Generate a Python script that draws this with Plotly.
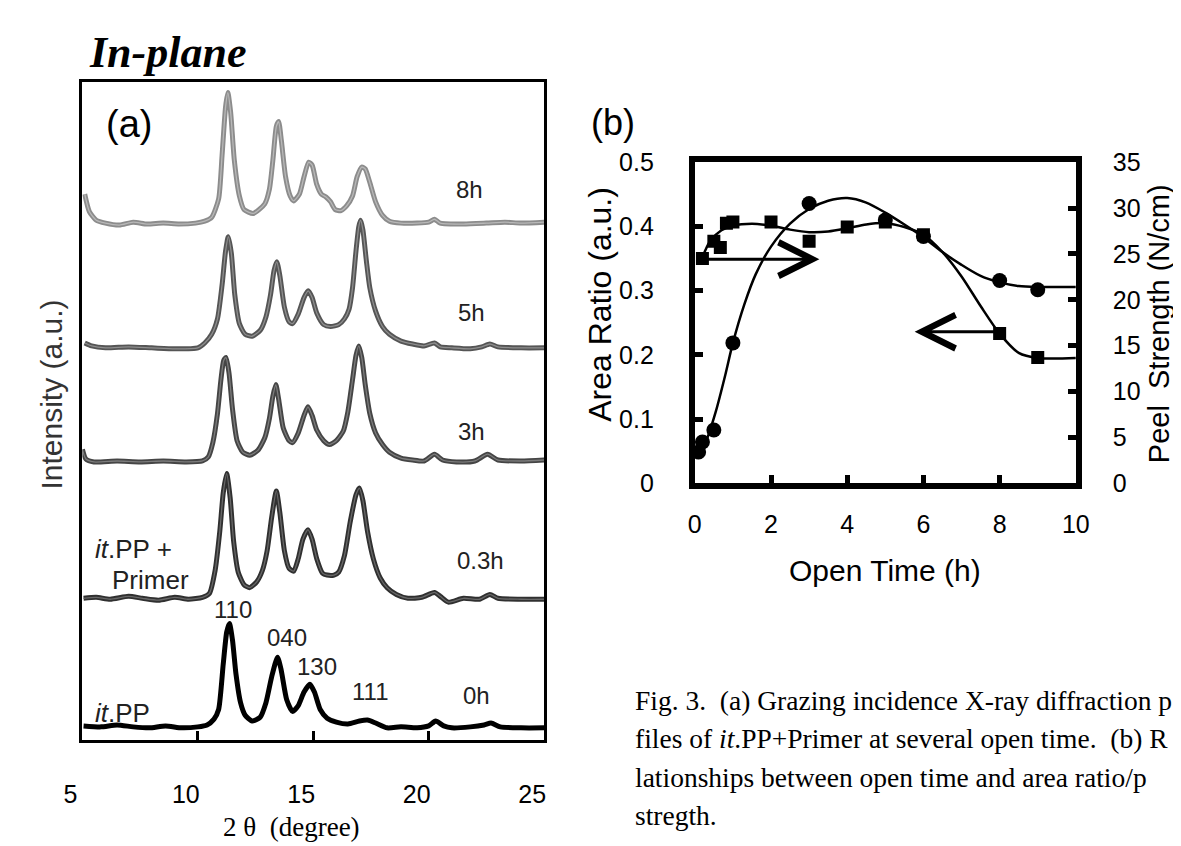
import plotly.graph_objects as go

W, H = 1181, 846

# ---------- (a) in-plane GIXD profiles (intensity in a.u.) ----------
tt_8h = [5.1, 5.3, 5.6, 6.0, 6.6, 7.2, 7.8, 8.5, 9.2, 9.9, 10.3, 10.6, 10.9, 11.05, 11.2, 11.3, 11.42,
         11.58, 11.8, 12.0, 12.4, 12.9, 13.1, 13.25, 13.4, 13.5, 13.62, 13.8, 14.0, 14.15, 14.4, 14.6,
         14.8, 14.95, 15.15, 15.35, 15.55, 15.75, 15.95, 16.2, 16.45, 16.7, 16.9, 17.1, 17.25, 17.45,
         17.7, 18.0, 18.3, 18.8, 19.5, 20.0, 20.25, 20.5, 21.5, 22.5, 23.3, 24.0, 25.0]
int_8h = [30, 12, 3, 0, -2, 1, -1, 0, -1, 0, 2, 6, 25, 70, 120, 135, 115, 65, 28, 14, 10, 20, 35,
          65, 100, 105, 85, 48, 28, 23, 30, 48, 63, 60, 40, 30, 27, 22, 14, 13, 18, 28, 48, 58, 56,
          42, 22, 8, 2, 0, 0, 1, 4, 0, -1, 0, 1, 0, 1]

tt_5h = [5.1, 5.4, 6.0, 7.0, 8.0, 9.0, 10.0, 10.3, 10.6, 10.85, 11.05, 11.2, 11.32, 11.45, 11.6,
         11.8, 12.05, 12.35, 12.7, 12.95, 13.15, 13.3, 13.42, 13.55, 13.75, 13.95, 14.1, 14.35, 14.6,
         14.78, 14.95, 15.15, 15.45, 15.75, 16.1, 16.35, 16.55, 16.7, 16.85, 16.97, 17.05, 17.15,
         17.3, 17.45, 17.7, 18.0, 18.3, 18.8, 19.3, 19.8, 20.25, 20.5, 21.0, 21.8, 22.3, 22.65, 23.0,
         24.0, 25.0]
int_5h = [5, 2, 0, 1, 0, -1, 0, 5, 14, 30, 65, 100, 115, 98, 55, 25, 14, 12, 18, 32, 55, 80, 89,
          75, 42, 27, 25, 35, 52, 59, 52, 36, 24, 22, 24, 30, 40, 62, 100, 125, 132, 122, 90, 62,
          38, 22, 14, 7, 4, 2, 5, 1, 0, -1, 1, 4, 1, 0, 0]

tt_3h = [5.0, 5.15, 5.5, 6.5, 7.5, 8.5, 9.5, 10.2, 10.45, 10.65, 10.85, 11.0, 11.12, 11.22, 11.35,
         11.5, 11.7, 11.95, 12.25, 12.6, 12.9, 13.1, 13.25, 13.38, 13.5, 13.7, 13.95, 14.1, 14.35,
         14.6, 14.77, 14.95, 15.15, 15.45, 15.7, 16.0, 16.3, 16.5, 16.7, 16.85, 16.97, 17.1, 17.25,
         17.45, 17.7, 18.0, 18.3, 18.8, 19.3, 19.8, 20.25, 20.6, 21.2, 22.0, 22.55, 23.0, 24.0, 25.0]
int_3h = [13, 3, 0, 1, 0, 1, 0, 1, 5, 20, 50, 85, 105, 108, 92, 55, 22, 10, 7, 12, 25, 45, 68, 80,
          65, 35, 22, 20, 30, 48, 57, 48, 33, 22, 18, 22, 32, 52, 85, 110, 120, 108, 80, 50, 30, 18,
          10, 4, 2, 1, 8, 2, 0, 1, 8, 2, 1, 2]

tt_03h = [5.05, 5.6, 6.2, 7.0, 7.6, 8.3, 9.0, 9.6, 10.2, 10.5, 10.75, 10.95, 11.1, 11.25, 11.4,
          11.55, 11.75, 12.0, 12.25, 12.55, 12.8, 13.0, 13.2, 13.4, 13.55, 13.75, 13.95, 14.15,
          14.35, 14.55, 14.77, 14.95, 15.15, 15.4, 15.6, 15.9, 16.1, 16.35, 16.6, 16.85, 17.0, 17.15,
          17.35, 17.6, 17.9, 18.2, 18.6, 19.1, 19.7, 20.25, 20.5, 20.85, 21.5, 22.2, 22.65, 23.0,
          24.0, 25.0]
int_03h = [1, 2, 0, 3, 1, -1, 2, 0, 2, 6, 30, 70, 110, 130, 105, 60, 28, 15, 12, 18, 30, 50, 85,
           112, 90, 50, 32, 29, 42, 62, 72, 62, 42, 27, 25, 25, 28, 45, 80, 108, 115, 102, 70, 42,
           22, 12, 5, 1, 2, 7, 3, -3, 1, 0, 5, 1, 0, 0]

tt_0h = [5.05, 5.8, 6.5, 7.2, 7.9, 8.6, 9.3, 10.0, 10.4, 10.7, 10.9, 11.1, 11.25, 11.37, 11.5,
         11.65, 11.85, 12.05, 12.35, 12.7, 12.95, 13.2, 13.45, 13.6, 13.85, 14.1, 14.35, 14.6, 14.85,
         15.05, 15.3, 15.6, 16.0, 16.5, 17.0, 17.35, 17.7, 18.2, 18.8, 19.5, 20.0, 20.3, 20.65, 21.0,
         21.8, 22.4, 22.7, 23.1, 24.0, 25.0]
int_0h = [1, 0, 2, 0, -1, 1, -1, 0, 2, 8, 18, 65, 98, 107, 90, 55, 25, 12, 6, 10, 25, 52, 72, 60,
          28, 16, 22, 36, 44, 36, 18, 9, 5, 3, 6, 7, 4, -1, 0, -1, 1, 6, 1, -1, 0, 2, 4, 0, -1, -1]

open_times = ["8h", "5h", "3h", "0.3h", "0h"]
stack_offset = [535, 406, 288, 146, 14]
profiles = [(tt_8h, int_8h), (tt_5h, int_5h), (tt_3h, int_3h), (tt_03h, int_03h), (tt_0h, int_0h)]

# ---------- (b) open time vs area ratio / peel strength ----------
area_time = [0.2, 0.5, 0.67, 0.83, 1, 2, 3, 4, 5, 6, 8, 9]
area_ratio = [0.35, 0.377, 0.367, 0.405, 0.407, 0.407, 0.377, 0.399, 0.407, 0.387, 0.233, 0.196]
peel_time = [0.1, 0.2, 0.5, 1, 3, 5, 6, 8, 9]
peel_strength = [3.4, 4.5, 5.8, 15.3, 30.5, 28.7, 26.9, 22.1, 21.1]

area_fit_time = [0.2, 0.4, 0.7, 1.0, 1.5, 2.0, 2.5, 3.0, 3.5, 4.0, 4.5, 5.0, 5.5, 6.0, 6.5, 7.0,
                 7.5, 8.0, 8.5, 9.0, 10.0]
area_fit = [0.352, 0.377, 0.394, 0.401, 0.404, 0.401, 0.395, 0.391, 0.392, 0.397, 0.403, 0.405,
            0.399, 0.387, 0.36, 0.322, 0.276, 0.233, 0.203, 0.195, 0.195]
peel_fit_time = [0.1, 0.3, 0.55, 0.8, 1.0, 1.3, 1.6, 2.0, 2.5, 3.0, 3.5, 4.0, 4.5, 5.0, 5.5, 6.0,
                 6.5, 7.0, 7.5, 8.0, 8.5, 9.0, 10.0]
peel_fit = [2.8, 4.6, 7.8, 11.8, 15.3, 19.5, 22.8, 25.8, 28.3, 29.9, 30.8, 31.1, 30.6, 29.5, 28.2,
            26.8, 25.2, 23.8, 22.6, 21.9, 21.5, 21.4, 21.4]

# caption as far as it is visible in the (cropped) original
caption = [
    "Fig. 3.  (a) Grazing incidence X-ray diffraction p",
    "files of <i>it</i>.PP+Primer at several open time.  (b) R",
    "lationships between open time and area ratio/p",
    "stregth.",
]


def fx(p):
    return p / W


def fy(p):
    return 1 - p / H


SANS = "Liberation Sans, Arial"
SERIF = "Liberation Serif, Times New Roman"

fig = go.Figure()

# panel (a) curves: thick stroke with a lighter core, like the scanned original
outer = ["#8c8c8c", "#555555", "#454545", "#303030", "#000000"]
inner = ["#b8b8b8", "#8e8e8e", "#7c7c7c", "#686868", None]
for (tt, inten), off, oc, ic, name in zip(profiles, stack_offset, outer, inner, open_times):
    y = [v + off for v in inten]
    fig.add_trace(go.Scatter(x=tt, y=y, mode="lines", name=name,
                             line=dict(color=oc, width=5, shape="spline", smoothing=0.6),
                             xaxis="x", yaxis="y", hoverinfo="skip"))
    if ic:
        fig.add_trace(go.Scatter(x=tt, y=y, mode="lines", showlegend=False,
                                 line=dict(color=ic, width=1.3, shape="spline", smoothing=0.6),
                                 xaxis="x", yaxis="y", hoverinfo="skip"))

# panel (b)
fig.add_trace(go.Scatter(x=area_fit_time, y=area_fit, mode="lines",
                         line=dict(color="black", width=2.5, shape="spline", smoothing=0.8),
                         xaxis="x2", yaxis="y2"))
fig.add_trace(go.Scatter(x=peel_fit_time, y=peel_fit, mode="lines",
                         line=dict(color="black", width=2.5, shape="spline", smoothing=0.8),
                         xaxis="x2", yaxis="y3"))
fig.add_trace(go.Scatter(x=area_time, y=area_ratio, mode="markers", name="Area ratio",
                         marker=dict(symbol="square", size=13, color="black"),
                         xaxis="x2", yaxis="y2"))
fig.add_trace(go.Scatter(x=peel_time, y=peel_strength, mode="markers", name="Peel strength",
                         marker=dict(symbol="circle", size=15, color="black"),
                         xaxis="x2", yaxis="y3"))

ax_common = dict(showgrid=False, zeroline=False, showline=True, linecolor="black",
                 tickcolor="black", ticks="inside")

fig.update_layout(
    width=W, height=H,
    margin=dict(l=0, r=0, t=0, b=0),
    paper_bgcolor="white", plot_bgcolor="white",
    showlegend=False,
    font=dict(family=SANS, color="black"),
    xaxis=dict(**ax_common, domain=[fx(57), fx(532)], range=[5, 25],
               tickvals=[5, 10, 15, 20, 25], ticklen=9, tickwidth=3, linewidth=3, mirror=True,
               tickfont=dict(size=25), ticklabelshift=-12, ticklabelstandoff=30, anchor="y"),
    yaxis=dict(showgrid=False, zeroline=False, showline=True, linecolor="black", linewidth=3,
               mirror=True, showticklabels=False, ticks="", domain=[fy(743), fy(62)],
               range=[0, 681], anchor="x"),
    xaxis2=dict(**ax_common, domain=[fx(687), fx(1079)], range=[0, 10],
                tickvals=[0, 2, 4, 6, 8, 10], ticklen=8, tickwidth=5, linewidth=6, mirror=True,
                tickfont=dict(size=25), ticklabelstandoff=14, anchor="y2"),
    yaxis2=dict(**ax_common, domain=[fy(477), fy(145)], range=[0, 0.5],
                tickvals=[0, 0.1, 0.2, 0.3, 0.4, 0.5],
                ticktext=["0", "0.1", "0.2", "0.3", "0.4", "0.5"],
                ticklen=8, tickwidth=5, linewidth=6, tickfont=dict(size=25),
                ticklabelstandoff=30, anchor="x2"),
    yaxis3=dict(**ax_common, overlaying="y2", side="right", range=[0, 35],
                tickvals=[0, 5, 10, 15, 20, 25, 30, 35], ticklen=8, tickwidth=5, linewidth=6,
                tickfont=dict(size=25), ticklabelstandoff=26, anchor="x2"),
)

ann = []


def text(s, x, y, size, family=SANS, angle=0, xanchor="center", color="black"):
    ann.append(dict(text=s, x=fx(x), y=fy(y), xref="paper", yref="paper", showarrow=False,
                    xanchor=xanchor, yanchor="middle", textangle=angle,
                    font=dict(size=size, family=family, color=color)))


text("<b><i>In-plane</i></b>", 62, 32, 44, family=SERIF, xanchor="left")
text("(a)", 105, 105, 38)
for lab, (lx, ly) in zip(open_times, [(455, 173), (457, 300), (457, 423), (467, 557), (462, 697)]):
    text(lab, lx, ly, 24, color="#222222")
text("<i>it</i>.PP +", 110, 545, 26, color="#222222")
text("Primer", 127, 577, 26, color="#222222")
text("<i>it</i>.PP", 98, 715, 26, color="#222222")
for lab, (lx, ly) in zip(["110", "040", "130", "111"], [(212, 608), (267, 637), (298, 667), (353, 692)]):
    text(lab, lx, ly, 24, color="#222222")
text("2 θ  (degree)", 272, 833, 27, family=SERIF)
text("Intensity (a.u.)", 25, 385, 30, angle=-90, color="#333333")

text("(b)", 603, 104, 36)
text("Area Ratio (a.u.)", 590, 292, 32, angle=-90)
text("Peel  Strength (N/cm)", 1164, 312, 29, angle=-90)
text("Open Time (h)", 883, 567, 30)
for i, line in enumerate(caption):
    text(line, 623, 702 + i * 39.5, 27.5, family=SERIF, xanchor="left")

# pointer arrows telling which axis each curve belongs to
for tip, tail, yv in [(3.27, 0.15, 0.349), (5.77, 8.0, 0.236)]:
    ann.append(dict(x=tip, y=yv, ax=tail, ay=yv, xref="x2", yref="y2", axref="x2", ayref="y2",
                    text="", showarrow=True, arrowhead=5, arrowsize=2.2, arrowwidth=3,
                    arrowcolor="black", standoff=0))

fig.update_layout(annotations=ann)

fig.write_html("out.html")
